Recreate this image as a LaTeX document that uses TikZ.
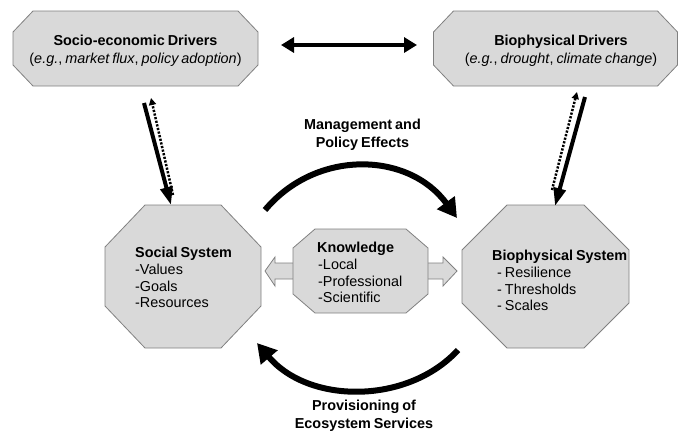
\documentclass[tikz,border=0pt]{standalone}
\usepackage{fontspec}
\setmainfont{Liberation Sans}[WordSpace=0.75]
\usetikzlibrary{arrows.meta,calc}
\definecolor{boxfill}{HTML}{D9D9D9}
\definecolor{boxline}{HTML}{808080}
\tikzset{
  frame/.style={draw=none,fill=none,inner sep=0pt,outer sep=0pt},
  octo/.style={draw=boxline,fill=boxfill,line width=0.8pt,line join=miter},
  hollow/.style={draw=boxline,fill=boxfill,line width=0.8pt},
  txt/.style={font=\fontsize{14.4}{16.7}\selectfont,inner sep=0pt,align=left},
  ctxt/.style={font=\fontsize{14.4}{18}\selectfont,inner sep=0pt,align=center},
  straight/.style={line width=4pt,-{Triangle[length=18pt,width=12pt]}},
  dotarrow/.style={line width=2.5pt,dash pattern=on 2.2pt off 1.5pt,-{Triangle[length=7pt,width=7pt]}},
  curved/.style={line width=6pt,-{Triangle[length=19pt,width=21pt]}},
  twoway/.style={line width=4.5pt,{Triangle[length=13pt,width=15pt]}-{Triangle[length=13pt,width=15pt]}}
}
\newcommand\octopath[3]{%
  \draw[octo] ($(#1.north west)+(#2,0)$) -- ($(#1.north east)+(-#2,0)$)
    -- ($(#1.north east)+(0,#3)$) -- ($(#1.south east)+(0,-#3)$)
    -- ($(#1.south east)+(-#2,0)$) -- ($(#1.south west)+(#2,0)$)
    -- ($(#1.south west)+(0,-#3)$) -- ($(#1.north west)+(0,#3)$) -- cycle;}
\begin{document}
\begin{tikzpicture}[x=1pt,y=-1pt]
\useasboundingbox (0,0) rectangle (678,432);
% frames
\node[frame,minimum width=245pt,minimum height=75pt] (SE) at (135.5,48.5) {};
\node[frame,minimum width=244pt,minimum height=75pt] (BD) at (555.5,48.5) {};
\node[frame,minimum width=156pt,minimum height=143pt] (Soc) at (183,276.5) {};
\node[frame,minimum width=167pt,minimum height=143pt] (BioS) at (545.5,276.5) {};
\node[frame,minimum width=135pt,minimum height=84pt] (K) at (360.5,271) {};
% hollow arrows
\draw[hollow] ($(K.west)+(2,-8)$) -- ($(K.west)+(-18,-8)$) -- ($(K.west)+(-18,-14)$)
  -- ($(K.west)+(-28,0)$) -- ($(K.west)+(-18,15)$) -- ($(K.west)+(-18,8)$)
  -- ($(K.west)+(2,8)$) -- cycle;
\draw[hollow] ($(K.east)+(-2,-8)$) -- ($(K.east)+(15,-8)$) -- ($(K.east)+(15,-14)$)
  -- ($(K.east)+(29,0)$) -- ($(K.east)+(15,15)$) -- ($(K.east)+(15,8)$)
  -- ($(K.east)+(-2,8)$) -- cycle;
% octagons
\octopath{SE}{20}{21}
\octopath{BD}{20}{21}
\octopath{Soc}{40}{42}
\octopath{BioS}{45}{45}
\octopath{K}{22}{19}
% texts
\node[ctxt] (SEt) at (135.5,51) {\textbf{Socio-economic Drivers}\\(\textit{e.g.}, \textit{market flux}, \textit{policy adoption})};
\node[ctxt] (BDt) at (561,51) {\textbf{Biophysical Drivers}\\(\textit{e.g.}, \textit{drought}, \textit{climate change})};
\node[txt,anchor=west] (Soct) at (135,277.5) {\textbf{Social System}\\-Values\\-Goals\\-Resources};
\node[txt,anchor=west] (BioSt) at (492,280.5) {\textbf{Biophysical System}\\\hspace*{5pt}- Resilience\\\hspace*{5pt}- Thresholds\\\hspace*{5pt}- Scales};
\node[txt,anchor=west] (Kt) at (317,272.5) {\textbf{Knowledge}\\\hspace*{1pt}-Local\\\hspace*{1pt}-Professional\\\hspace*{1pt}-Scientific};
\node[ctxt] (MPt) at (362.5,134.5) {\textbf{Management and}\\\textbf{Policy Effects}};
\node[ctxt] (PEt) at (364,415.5) {\textbf{Provisioning of}\\\textbf{Ecosystem Services}};
% arrows
\draw[twoway] ($(SE.east)+(23,-3.5)$) -- ($(BD.west)+(-16.5,-3.5)$);
\draw[straight] ($(SE.south)+(8.5,17)$) -- ($(Soc.north)+(-12,0)$);
\draw[dotarrow] ($(Soc.north)+(-10,-10)$) -- ($(SE.south)+(15.5,12)$);
\draw[straight] ($(BD.south)+(29.5,11)$) -- ($(BioS.north)+(9.5,1)$);
\draw[dotarrow] ($(BioS.north)+(6.5,-15)$) -- ($(BD.south)+(21.5,6)$);
\draw[curved] ($(Soc.north east)+(4,5)$) .. controls (316.7,148.4) and (409,152) .. ($(BioS.north west)+(-5,13)$);
\draw[curved] ($(BioS.south west)+(-4,2)$) .. controls (408,404.5) and (309,404.5) .. ($(Soc.south east)+(-4,-5)$);
\end{tikzpicture}
\end{document}
